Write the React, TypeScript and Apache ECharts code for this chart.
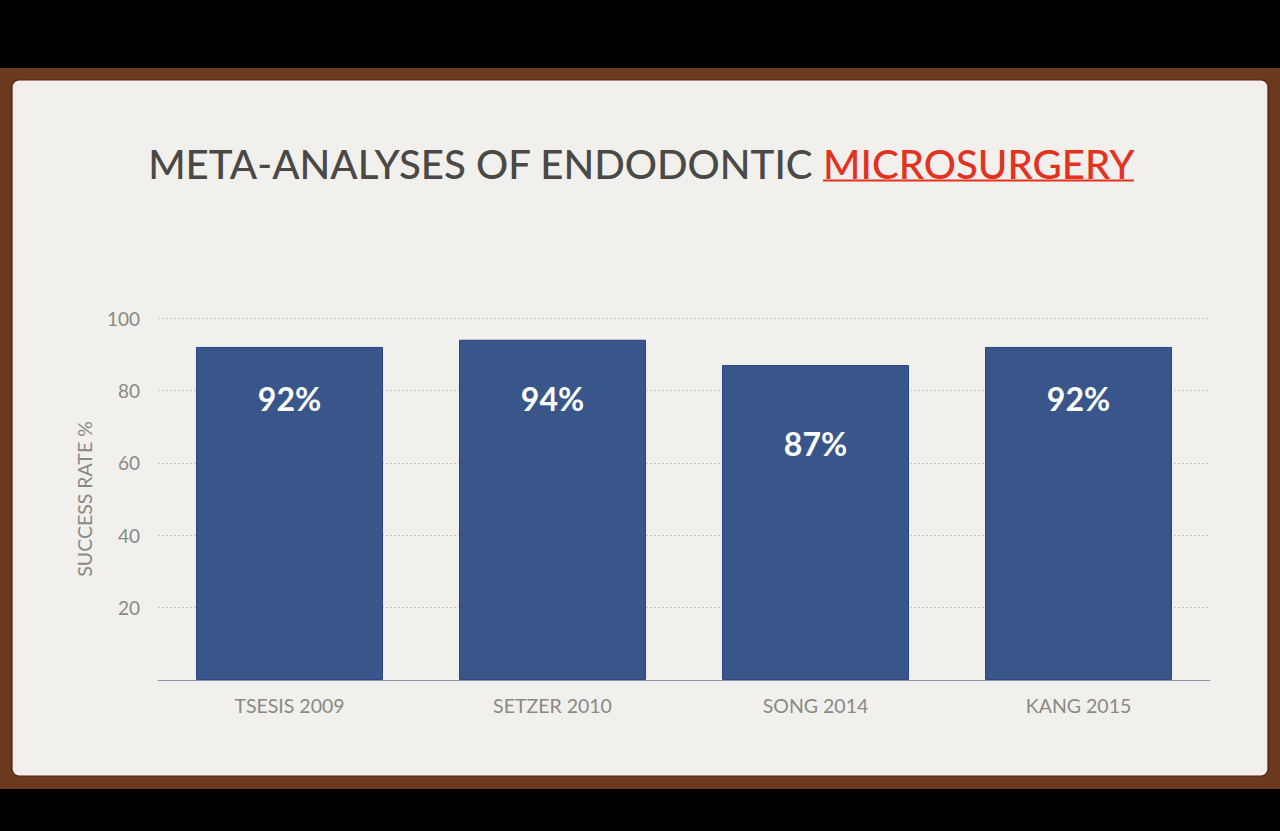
import React, { useEffect, useRef } from "react";
import * as echarts from "echarts";

const categories = ["TSESIS 2009", "SETZER 2010", "SONG 2014", "KANG 2015"];
const successRates = [92, 94, 87, 92];
const yTickValues = [0, 20, 40, 60, 80, 100];
const titleGray = "META-ANALYSES OF ENDODONTIC ";
const titleRed = "MICROSURGERY";
const yAxisName = "SUCCESS RATE %";

// label distances from bar top (styling, not data)
const labelDistances = [36, 43, 62, 36];

const TITLE_FONT = "Lato, 'Noto Sans', sans-serif";

function measure(text: string, size: number, weight = "normal") {
  const c = document.createElement("canvas");
  const ctx = c.getContext("2d")!;
  ctx.font = `${weight} ${size}px Lato`;
  return ctx.measureText(text).width;
}

export default function App() {
  const ref = useRef<HTMLDivElement>(null);
  useEffect(() => {
    document.body.style.margin = "0";
    const chart = echarts.init(ref.current!, undefined, { renderer: "svg" });

    const titleLeft = 148;
    const titleRight = 1134;
    const full = measure(titleGray + titleRed, 100);
    let fs = (100 * (titleRight - titleLeft)) / full;
    if (fs > 44) fs = 44;
    const grayW = measure(titleGray, fs);
    const redW = measure(titleRed, fs);
    const totalW = grayW + redW;
    const startX = (titleLeft + titleRight) / 2 - totalW / 2;
    const redX = startX + grayW;

    chart.setOption({
      animation: false,
      backgroundColor: "#000000",
      graphic: [
        { type: "rect", z: -10, shape: { x: 0, y: 68, width: 1280, height: 721 }, style: { fill: "#6b3a1e" } },
        {
          type: "rect",
          z: -9,
          shape: { x: 12, y: 80, width: 1256, height: 696, r: 7 },
          style: { fill: "#f1f0ed", stroke: "#5a1c10", lineWidth: 1.2 },
        },
        {
          type: "text",
          z: 5,
          x: startX,
          y: 163,
          style: {
            text: titleGray,
            fill: "#4a4945",
            font: `500 ${fs.toFixed(1)}px ${TITLE_FONT}`,
            textAlign: "left",
            textVerticalAlign: "middle",
          },
        },
        {
          type: "text",
          z: 5,
          x: redX,
          y: 163,
          style: {
            text: titleRed,
            fill: "#e3321f",
            font: `500 ${fs.toFixed(1)}px ${TITLE_FONT}`,
            textAlign: "left",
            textVerticalAlign: "middle",
          },
        },
        {
          type: "line",
          z: 5,
          shape: { x1: redX, y1: 180.5, x2: redX + redW, y2: 180.5 },
          style: { stroke: "#e3321f", lineWidth: 2 },
        },
      ],
      grid: { left: 158, right: 70, top: 318, bottom: 151, containLabel: false },
      xAxis: {
        type: "category",
        data: categories,
        axisLine: { show: true, lineStyle: { color: "#8f97a8", width: 1 } },
        axisTick: { show: false },
        axisLabel: {
          color: "#8a8984",
          fontFamily: "Lato, sans-serif",
          fontSize: 19.5,
          margin: 15,
        },
      },
      yAxis: {
        type: "value",
        min: 0,
        max: 100,
        interval: 20,
        name: yAxisName,
        nameLocation: "middle",
        nameGap: 64,
        nameTextStyle: { color: "#8a8984", fontFamily: "Lato, sans-serif", fontSize: 19.5 },
        axisLine: { show: false },
        axisTick: { show: false },
        axisLabel: {
          color: "#8a8984",
          fontFamily: "Lato, sans-serif",
          fontSize: 19,
          margin: 18,
          formatter: (v: number) => (yTickValues.indexOf(v) > 0 ? String(v) : ""),
        },
        splitLine: { show: true, lineStyle: { color: "#c4c3bf", type: [2, 2], width: 1 } },
      },
      series: [
        {
          type: "bar",
          barWidth: 187,
          data: successRates.map((v, i) => ({
            value: v,
            label: { distance: labelDistances[i] },
          })),
          itemStyle: { color: "#38568a", borderColor: "#27458a", borderWidth: 1 },
          label: {
            show: true,
            position: "insideTop",
            formatter: "{c}%",
            color: "#ffffff",
            fontFamily: "Lato, sans-serif",
            fontWeight: "bold",
            fontSize: 32,
          },
        },
      ],
    });
    return () => chart.dispose();
  }, []);
  return <div ref={ref} style={{ position: "fixed", left: 0, top: 0, width: 1280, height: 831 }} />;
}
